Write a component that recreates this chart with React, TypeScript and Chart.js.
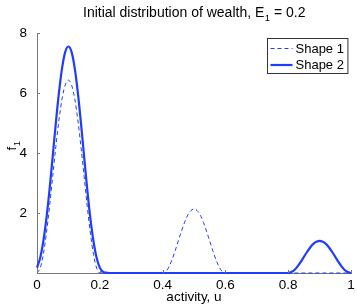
import React, { useEffect, useRef } from "react";
import { Chart, registerables } from "chart.js";
Chart.register(...registerables);

const TITLE_MAIN = "Initial distribution of wealth, E";
const TITLE_SUB = "1";
const TITLE_TAIL = " = 0.2";
const Y_TITLE = "f";
const Y_SUB = "1";
const X_TITLE = "activity, u";
const SERIES_NAMES = ["Shape 1", "Shape 2"];
const X_TICKS = [0, 0.2, 0.4, 0.6, 0.8, 1];
const Y_TICKS = [0, 2, 4, 6, 8];

const SHAPE1_U = [
  0, 0.01, 0.02, 0.03, 0.04, 0.05, 0.06, 0.07, 0.08, 0.09, 0.1,
  0.11, 0.12, 0.13, 0.14, 0.15, 0.16, 0.17, 0.18, 0.19, 0.2,
  0.4, 0.41, 0.42, 0.43, 0.44, 0.45, 0.46, 0.47, 0.48, 0.49, 0.5,
  0.51, 0.52, 0.53, 0.54, 0.55, 0.56, 0.57, 0.58, 0.59, 0.6,
  1.0,
];
const SHAPE1_F = [
  0, 0.16, 0.61, 1.33, 2.22, 3.22, 4.21, 5.1, 5.82, 6.27, 6.43,
  6.27, 5.82, 5.1, 4.21, 3.22, 2.22, 1.33, 0.61, 0.16, 0,
  0, 0.05, 0.2, 0.44, 0.74, 1.07, 1.39, 1.69, 1.93, 2.08, 2.13,
  2.08, 1.93, 1.69, 1.39, 1.07, 0.74, 0.44, 0.2, 0.05, 0,
  0,
];
const SHAPE2_U = [
  0, 0.01, 0.02, 0.03, 0.04, 0.05, 0.06, 0.07, 0.08, 0.09, 0.1,
  0.11, 0.12, 0.13, 0.14, 0.15, 0.16, 0.17, 0.18, 0.19, 0.2, 0.21, 0.22, 0.23,
  0.8, 0.81, 0.82, 0.83, 0.84, 0.85, 0.86, 0.87, 0.88, 0.89, 0.9,
  0.91, 0.92, 0.93, 0.94, 0.95, 0.96, 0.97, 0.98, 0.99, 1.0,
];
const SHAPE2_F = [
  0.18, 0.5, 1.05, 1.82, 2.79, 3.89, 5.0, 6.02, 6.84, 7.37, 7.55,
  7.37, 6.84, 6.02, 5.0, 3.89, 2.79, 1.82, 1.05, 0.5, 0.18, 0.04, 0.01, 0,
  0, 0.03, 0.1, 0.22, 0.37, 0.54, 0.7, 0.85, 0.97, 1.04, 1.07,
  1.04, 0.97, 0.85, 0.7, 0.54, 0.37, 0.22, 0.1, 0.03, 0,
];

const FONT = "'Liberation Sans', Arial, Helvetica, sans-serif";
const BLUE = "#1f3cff";
const AXIS = "#777777";
const DASH = [4, 3];

const decorPlugin = {
  id: "decor",
  afterDraw(chart: any) {
    const ctx = chart.ctx as CanvasRenderingContext2D;
    const { left, right, top, bottom } = chart.chartArea;
    const xs = chart.scales.x;
    const ys = chart.scales.y;
    ctx.save();
    // inward tick marks
    ctx.strokeStyle = AXIS;
    ctx.lineWidth = 1;
    ctx.beginPath();
    X_TICKS.forEach((v) => {
      const px = Math.round(xs.getPixelForValue(v)) + 0.5;
      ctx.moveTo(px, bottom);
      ctx.lineTo(px, bottom - 3);
    });
    Y_TICKS.forEach((v) => {
      const py = Math.round(ys.getPixelForValue(v)) + 0.5;
      ctx.moveTo(left, py);
      ctx.lineTo(left + 3, py);
    });
    ctx.stroke();

    ctx.fillStyle = "#000";
    ctx.textBaseline = "alphabetic";
    // title with subscript
    const big = `14px ${FONT}`;
    const small = `9.5px ${FONT}`;
    ctx.font = big;
    const w1 = ctx.measureText(TITLE_MAIN).width;
    const w3 = ctx.measureText(TITLE_TAIL).width;
    ctx.font = small;
    const w2 = ctx.measureText(TITLE_SUB).width;
    const cx = (left + right) / 2;
    let tx = cx - (w1 + w2 + w3) / 2;
    const ty = 17;
    ctx.textAlign = "left";
    ctx.font = big;
    ctx.fillText(TITLE_MAIN, tx, ty);
    tx += w1;
    ctx.font = small;
    ctx.fillText(TITLE_SUB, tx + 0.5, ty + 4);
    tx += w2 + 0.5;
    ctx.font = big;
    ctx.fillText(TITLE_TAIL, tx, ty);

    // x title
    const mid = `13.5px ${FONT}`;
    ctx.textAlign = "center";
    ctx.font = mid;
    ctx.fillText(X_TITLE, cx, 301);

    // y title (rotated) with subscript
    ctx.save();
    ctx.font = mid;
    const fw = ctx.measureText(Y_TITLE).width;
    ctx.font = small;
    const sw = ctx.measureText(Y_SUB).width;
    ctx.translate(16, (top + bottom) / 2 - 7);
    ctx.rotate(-Math.PI / 2);
    ctx.textAlign = "left";
    ctx.font = mid;
    ctx.fillText(Y_TITLE, -(fw + sw) / 2, 0);
    ctx.font = small;
    ctx.fillText(Y_SUB, -(fw + sw) / 2 + fw + 0.5, 4);
    ctx.restore();

    // legend
    const legFont = `13px ${FONT}`;
    ctx.font = legFont;
    const maxW = Math.max(
      ...chart.data.datasets.map((d: any) => ctx.measureText(d.label).width)
    );
    const bw = 28 + maxW + 4;
    const bx = Math.round(right - 4 - bw) + 0.5;
    const by = top + 5.5;
    const bh = 35;
    ctx.fillStyle = "#fff";
    ctx.fillRect(bx, by, bw, bh);
    ctx.strokeStyle = "#333";
    ctx.lineWidth = 1;
    ctx.strokeRect(bx, by, bw, bh);
    chart.data.datasets.forEach((ds: any, i: number) => {
      const ly = by + 10 + i * 16.5;
      ctx.strokeStyle = ds.borderColor;
      ctx.lineWidth = ds.borderWidth;
      ctx.setLineDash(ds.borderDash || []);
      ctx.beginPath();
      ctx.moveTo(bx + 3, ly);
      ctx.lineTo(bx + 25, ly);
      ctx.stroke();
      ctx.setLineDash([]);
      ctx.fillStyle = "#000";
      ctx.font = legFont;
      ctx.textAlign = "left";
      ctx.textBaseline = "middle";
      ctx.fillText(ds.label, bx + 28, ly + 0.5);
    });
    ctx.restore();
  },
};

export default function App() {
  const ref = useRef<HTMLCanvasElement>(null);
  useEffect(() => {
    document.body.style.margin = "0";
    const chart = new Chart(ref.current!, {
      type: "line",
      data: {
        datasets: [
          {
            label: SERIES_NAMES[0],
            data: SHAPE1_U.map((u, i) => ({ x: u, y: SHAPE1_F[i] })),
            borderColor: BLUE,
            borderWidth: 1,
            borderDash: DASH,
            pointRadius: 0,
            cubicInterpolationMode: "monotone",
            clip: false,
            order: 1,
          } as any,
          {
            label: SERIES_NAMES[1],
            data: SHAPE2_U.map((u, i) => ({ x: u, y: SHAPE2_F[i] })),
            borderColor: BLUE,
            borderWidth: 2.2,
            pointRadius: 0,
            cubicInterpolationMode: "monotone",
            clip: false,
            order: 0,
          } as any,
        ],
      },
      options: {
        animation: false,
        responsive: false,
        maintainAspectRatio: false,
        layout: { padding: { left: 0, right: 6, top: 33, bottom: 0 } },
        plugins: {
          legend: { display: false },
          title: { display: false },
          tooltip: { enabled: false },
        },
        scales: {
          x: {
            type: "linear",
            min: 0,
            max: 1,
            afterBuildTicks: (s: any) => {
              s.ticks = X_TICKS.map((v) => ({ value: v }));
            },
            afterFit: (s: any) => {
              s.height = 34;
            },
            ticks: {
              callback: (v: any) => String(v),
              font: { family: FONT, size: 13.5 },
              color: "#000",
              padding: -4,
              maxRotation: 0,
            },
            grid: { display: false },
            border: { display: true, color: AXIS, width: 1 },
          },
          y: {
            type: "linear",
            min: 0,
            max: 8,
            afterBuildTicks: (s: any) => {
              s.ticks = Y_TICKS.map((v) => ({ value: v }));
            },
            afterFit: (s: any) => {
              s.width = 37;
            },
            ticks: {
              callback: (v: any) => (v === 0 ? "" : String(v)),
              font: { family: FONT, size: 13.5 },
              color: "#000",
              padding: 2,
            },
            grid: { display: false },
            border: { display: true, color: AXIS, width: 1 },
          },
        },
      },
      plugins: [decorPlugin],
    });
    return () => chart.destroy();
  }, []);
  return (
    <div style={{ position: "absolute", left: 0, top: 0, width: 357, height: 307 }}>
      <canvas ref={ref} width={357} height={307} />
    </div>
  );
}
